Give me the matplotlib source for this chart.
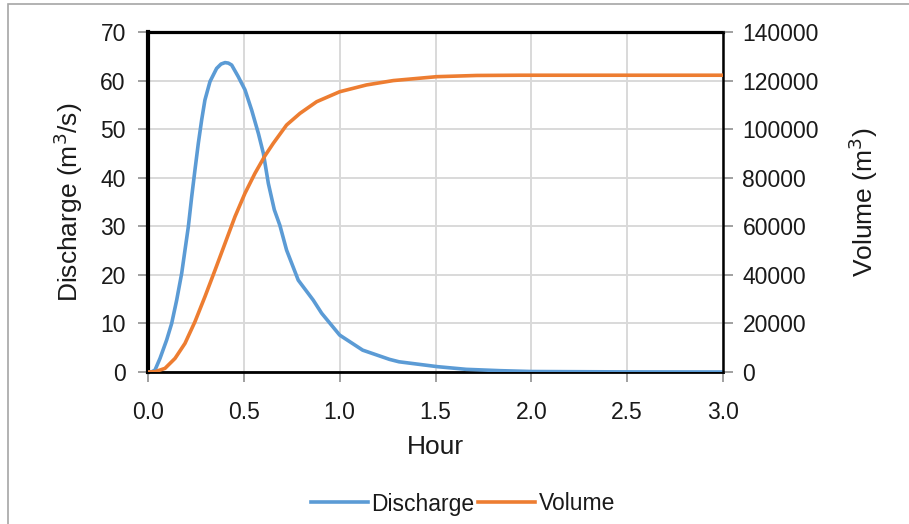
import matplotlib
matplotlib.use("Agg")
import matplotlib.pyplot as plt
from matplotlib.patches import Rectangle

plt.rcParams['font.family'] = ['Liberation Sans', 'DejaVu Sans']

# Discharge hydrograph (hour, m3/s)
q_hour = [0.0, 0.02, 0.0365, 0.0626, 0.0974, 0.1235, 0.1496, 0.1757, 0.193, 0.2104, 0.228,
          0.245, 0.2626, 0.28, 0.297, 0.3235, 0.358, 0.381, 0.402, 0.419, 0.4365, 0.471, 0.506,
          0.541, 0.576, 0.602, 0.628, 0.659, 0.688, 0.723, 0.784, 0.862, 0.906,
          1.0, 1.12, 1.26, 1.31, 1.51, 1.66, 1.84, 2.0, 2.5, 3.0]
discharge = [0.0, 0.05, 0.4, 2.8, 6.6, 10.0, 14.8, 20.3, 25.1, 29.9, 36.1,
             41.6, 47.1, 51.9, 56.0, 59.8, 62.5, 63.4, 63.7, 63.6, 63.2, 60.8, 58.1,
             53.9, 49.1, 45.0, 38.8, 33.4, 30.2, 25.1, 18.9, 14.8, 12.1,
             7.6, 4.5, 2.6, 2.1, 1.1, 0.55, 0.27, 0.1, 0.02, 0.0]

# Cumulative volume (hour, m3)
v_hour = [0.0, 0.0365, 0.0887, 0.141, 0.193, 0.245, 0.297, 0.35, 0.402, 0.454,
          0.506, 0.558, 0.61, 0.654, 0.723, 0.793, 0.88, 1.0, 1.14, 1.28,
          1.506, 1.715, 1.94, 2.5, 3.0]
volume = [0, 100, 1500, 5600, 11800, 20700, 31000, 42000, 53000, 64000,
          73600, 81800, 89000, 94200, 101700, 106500, 111300, 115400, 118200, 120000,
          121600, 122100, 122200, 122200, 122200]

x_ticks = [0.0, 0.5, 1.0, 1.5, 2.0, 2.5, 3.0]
q_ticks = [0, 10, 20, 30, 40, 50, 60, 70]
v_ticks = [0, 20000, 40000, 60000, 80000, 100000, 120000, 140000]

blue = '#5b9bd5'
orange = '#ed7d31'
text_c = '#1a1a1a'

fig = plt.figure(figsize=(9.09, 5.24), dpi=100)
ax = fig.add_axes([148/909, 1-372/524, (723-148)/909, (372-32)/524])
ax2 = ax.twinx()

l1, = ax.plot(q_hour, discharge, color=blue, lw=2.6, label='Discharge', zorder=3,
              solid_joinstyle='round')
l2, = ax2.plot(v_hour, volume, color=orange, lw=2.6, label='Volume', zorder=3,
               solid_joinstyle='round')

ax.set_xlim(0, 3.0)
ax.set_ylim(0, 70)
ax2.set_ylim(0, 140000)
ax.set_xticks(x_ticks)
ax.set_xticklabels([f"{t:.1f}" for t in x_ticks])
ax.set_yticks(q_ticks)
ax2.set_yticks(v_ticks)
ax2.set_yticklabels([str(t) for t in v_ticks])

ax.grid(True, color='#d9d9d9', lw=1.4, zorder=0)
ax.set_axisbelow(True)

for a in (ax, ax2):
    a.tick_params(labelsize=16.5, labelcolor=text_c, length=7, width=1.1, color='#868686')
    for s in a.spines.values():
        s.set_color('black')
ax.tick_params(axis='x', pad=14)
ax.tick_params(axis='y', pad=9)
ax2.tick_params(axis='y', pad=7)
ax.spines['left'].set_linewidth(3.0)
ax.spines['top'].set_linewidth(2.3)
ax.spines['bottom'].set_linewidth(2.0)
ax.spines['right'].set_visible(False)
ax2.spines['right'].set_linewidth(1.8)
ax2.spines['left'].set_visible(False)
ax2.spines['top'].set_visible(False)
ax2.spines['bottom'].set_visible(False)

ax.set_xlabel('Hour', fontsize=19, color=text_c, labelpad=8)
ax.set_ylabel('Discharge (m$^3$/s)', fontsize=19, color=text_c, labelpad=11)
ax2.set_ylabel('Volume (m$^3$)', fontsize=19, color=text_c, labelpad=20)

fig.legend([l1, l2], ['Discharge', 'Volume'], loc='center', bbox_to_anchor=(463/909, 1-504/524),
           ncol=2, frameon=False, fontsize=16.5, handlelength=2.5, handletextpad=0.15,
           columnspacing=0.15, borderaxespad=0, labelcolor=text_c)

fig.add_artist(Rectangle((8/909, -0.01), 1.0, 1-4/524+0.01, transform=fig.transFigure,
                         fill=False, edgecolor='#a6a6a6', lw=1.2))

fig.savefig('out.png', dpi=100)
